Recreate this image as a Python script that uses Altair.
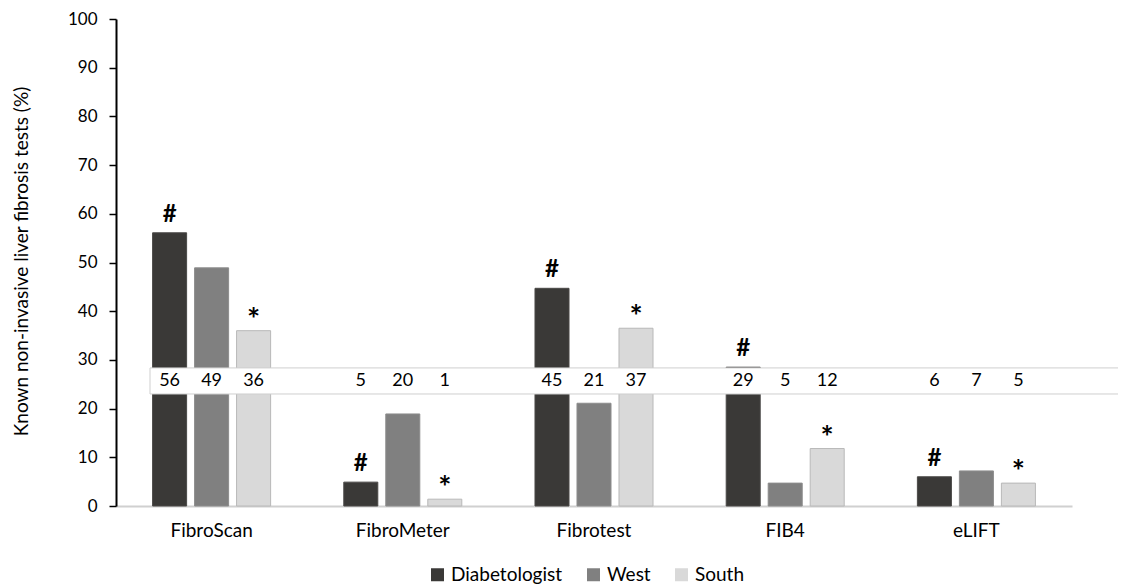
import altair as alt
import pandas as pd

categories = ["FibroScan", "FibroMeter", "Fibrotest", "FIB4", "eLIFT"]
series = ["Diabetologist", "West", "South"]
colors = ["#3a3937", "#808080", "#d9d9d9"]
edge_colors = ["#4a4947", "#8c8c8c", "#b8b8b8"]

# bar heights (%)
diabetologist = [56.1, 4.9, 44.7, 28.5, 6.0]
west = [48.9, 18.9, 21.1, 4.7, 7.2]
south = [36.0, 1.4, 36.5, 11.8, 4.7]

# numbers printed in the white band
label_diabetologist = [56, 5, 45, 29, 6]
label_west = [49, 20, 21, 5, 7]
label_south = [36, 1, 37, 12, 5]

# significance markers
marker_diabetologist = ["#", "#", "#", "#", "#"]
marker_west = ["", "", "", "", ""]
marker_south = ["*", "*", "*", "*", "*"]

# white band holding the numbers (y range in %)
band_low = 23.0
band_high = 28.35

rows = []
for s, vals, labs, mks in [
    ("Diabetologist", diabetologist, label_diabetologist, marker_diabetologist),
    ("West", west, label_west, marker_west),
    ("South", south, label_south, marker_south),
]:
    for c, v, l, m in zip(categories, vals, labs, mks):
        rows.append({"category": c, "series": s, "value": v, "label": str(l), "marker": m,
                     "mid": (band_low + band_high) / 2})
df = pd.DataFrame(rows)
band_df = pd.DataFrame([{"lo": band_low, "hi": band_high}])

FONT = "Lato"

x_enc = alt.X("category:N", sort=categories,
              scale=alt.Scale(domain=categories, paddingInner=0.341, paddingOuter=0.1705),
              axis=alt.Axis(title=None, labelAngle=0, ticks=False, domainColor="#d0d0d0",
                            domainWidth=2, labelPadding=15, labelFontSize=19,
                            labelColor="#000000", labelFont=FONT))
xo_enc = alt.XOffset("series:N", sort=series,
                     scale=alt.Scale(domain=series, paddingInner=0.19, paddingOuter=0.095))
y_scale = alt.Scale(domain=[0, 100], nice=False)

bars = alt.Chart(df).mark_bar(strokeWidth=1).encode(
    x=x_enc,
    xOffset=xo_enc,
    y=alt.Y("value:Q", scale=y_scale,
            axis=alt.Axis(title="Known non-invasive liver fibrosis tests (%)",
                          values=list(range(0, 101, 10)), grid=False,
                          domainColor="#000000", domainWidth=2, tickColor="#000000",
                          tickSize=7, tickWidth=1.5, labelFontSize=17, labelPadding=12,
                          labelColor="#000000", labelFont=FONT,
                          titleFontSize=19, titleFontWeight="normal", titleColor="#000000",
                          titleFont=FONT, titleAngle=-90, titleX=-95, titleY=242,
                          titleBaseline="middle", titleAlign="center")),
    color=alt.Color("series:N", sort=series,
                    scale=alt.Scale(domain=series, range=colors),
                    legend=alt.Legend(title=None, orient="none", direction="horizontal",
                                      legendX=312, legendY=546, symbolType="square",
                                      symbolSize=169, symbolStrokeWidth=0,
                                      labelFontSize=19, labelFont=FONT, labelColor="#000000",
                                      columnPadding=21, labelOffset=4)),
    stroke=alt.Stroke("series:N", sort=series,
                      scale=alt.Scale(domain=series, range=edge_colors), legend=None),
)

band = alt.Chart(band_df).mark_rect(fill="#ffffff", stroke="#cfcfcf", strokeWidth=1).encode(
    x=alt.value(34),
    x2=alt.value(1040),
    y=alt.Y("lo:Q", scale=y_scale),
    y2="hi:Q",
)

labels = alt.Chart(df).mark_text(fontSize=18, font=FONT, color="#000000",
                                 baseline="middle").encode(
    x=alt.X("category:N", sort=categories),
    xOffset=alt.XOffset("series:N", sort=series),
    y=alt.Y("mid:Q", scale=y_scale),
    text="label:N",
)

hash_marks = alt.Chart(df).transform_filter(alt.datum.marker == "#").mark_text(
    fontSize=24, font=FONT, fontWeight="bold", color="#000000",
    baseline="alphabetic", dy=-11).encode(
    x=alt.X("category:N", sort=categories),
    xOffset=alt.XOffset("series:N", sort=series),
    y=alt.Y("value:Q", scale=y_scale),
    text="marker:N",
)

star_marks = alt.Chart(df).transform_filter(alt.datum.marker == "*").mark_text(
    fontSize=31, font=FONT, fontWeight="bold", color="#000000",
    baseline="alphabetic", dy=-1).encode(
    x=alt.X("category:N", sort=categories),
    xOffset=alt.XOffset("series:N", sort=series),
    y=alt.Y("value:Q", scale=y_scale),
    text="marker:N",
)

chart = alt.layer(bars, band, labels, hash_marks, star_marks).properties(
    width=956, height=487,
    autosize=alt.AutoSizeParams(type="none"),
    padding={"left": 108, "top": 11, "right": 46, "bottom": 80},
).configure(font=FONT).configure_view(stroke=None)

chart.save("out.html", embed_options={"renderer": "svg", "actions": False})
